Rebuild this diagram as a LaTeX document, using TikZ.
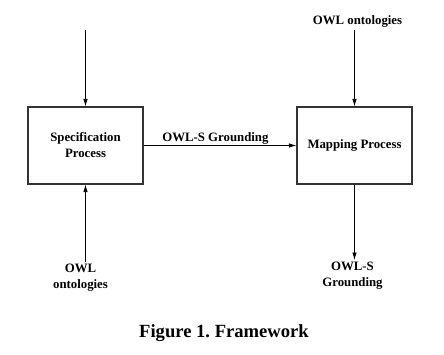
\documentclass[tikz,border=0pt]{standalone}
\usepackage{fontspec}
\setmainfont{Liberation Serif}
\usetikzlibrary{arrows.meta}

\begin{document}
\begin{tikzpicture}[x=1pt, y=1pt, >={Latex[length=7.5pt,width=4.5pt]}, line width=0.8pt, font=\fontsize{12.8}{16}\selectfont\bfseries, block/.style={rectangle, draw=black!80, line width=1.1pt, minimum width=115pt, minimum height=77pt, align=center}, lbl/.style={align=center, inner sep=2pt}]

  \useasboundingbox (0,0) rectangle (444,354);

  \node[block] (spec) at (85.5,208.5) {Specification\\Process};
  \node[block, right of=spec, node distance=269pt] (map) {Mapping Process};

  \node[coordinate, above of=spec, node distance=115.5pt] (specin) {};
  \node[coordinate, below of=spec, node distance=116.5pt] (specont) {};
  \node[coordinate, above of=map, node distance=115.5pt] (mapin) {};
  \node[coordinate, below of=map, node distance=114.5pt] (mapout) {};

  \node[lbl, anchor=south, xshift=3pt] (topont) at (mapin) {OWL ontologies};
  \node[lbl, anchor=north, xshift=-5pt] (botont) at (specont) {OWL\\ontologies};
  \node[lbl, anchor=north, xshift=-2pt] (ground) at (mapout) {OWL-S\\Grounding};

  \draw[->] (specin) -- (spec);
  \draw[->] (specont) -- (spec);
  \draw[->] (spec) -- node[above, pos=0.47, inner sep=1pt] {OWL-S Grounding} (map);
  \draw[->] (mapin) -- (map);
  \draw[->] (map) -- (mapout);

  \node[font=\fontsize{18.6}{22}\selectfont\bfseries] (caption) at (224,21) {Figure 1.\ Framework};
\end{tikzpicture}
\end{document}
